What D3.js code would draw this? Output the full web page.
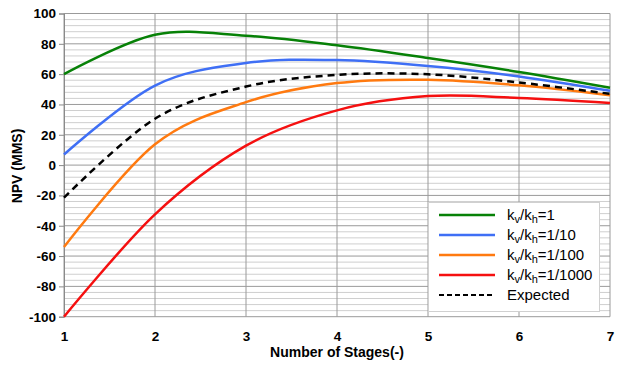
<!DOCTYPE html>
<html><head><meta charset="utf-8">
<script src="https://cdn.jsdelivr.net/npm/d3@7"></script>
<style>
body{margin:0;background:#fff;}
text{font-family:"Liberation Sans",Arial,Helvetica,sans-serif;}
</style></head>
<body><svg id="c" width="620" height="367"></svg>
<script>
const stages = [1, 2, 3, 4, 5, 6, 7];
const npv_1 = [60, 86, 85.3, 79, 70.6, 61.4, 51];
const npv_10 = [7, 52.5, 67.3, 69.3, 65.4, 58.5, 49];
const npv_100 = [-54, 13.7, 41.5, 54.1, 56.3, 52.6, 46];
const npv_1000 = [-100, -32.5, 12.8, 36.1, 45.5, 44.3, 41];
const npv_expected = [-21.5, 30.6, 51.8, 59.5, 59.9, 54.5, 47];
const yTicks = [-100, -80, -60, -40, -20, 0, 20, 40, 60, 80, 100];
const xTicks = [1, 2, 3, 4, 5, 6, 7];
const seriesNames = ["1", "1/10", "1/100", "1/1000", "Expected"];

const series = [
  {name: seriesNames[0], values: npv_1, color: "#078107", dash: null},
  {name: seriesNames[1], values: npv_10, color: "#3f6ff5", dash: null},
  {name: seriesNames[2], values: npv_100, color: "#ff7a10", dash: null},
  {name: seriesNames[3], values: npv_1000, color: "#f51010", dash: null},
  {name: seriesNames[4], values: npv_expected, color: "#000000", dash: "7,5"}
];

const svg = d3.select("#c");
const L = 64, R = 610, T = 13.5, B = 316.7;
const x = d3.scaleLinear().domain([1, 7]).range([L, R]);
const y = d3.scaleLinear().domain([-100, 100]).range([B, T]);

// minor grid
const minor = d3.range(-100, 100.01, 4).filter(v => v % 20 !== 0);
svg.append("g").selectAll("line").data(minor).join("line")
  .attr("x1", L).attr("x2", R).attr("y1", d => y(d)).attr("y2", d => y(d))
  .attr("stroke", "#cfcfcf").attr("stroke-width", 1);
// major grid
svg.append("g").selectAll("line").data(yTicks).join("line")
  .attr("x1", L).attr("x2", R).attr("y1", d => y(d)).attr("y2", d => y(d))
  .attr("stroke", "#9a9a9a").attr("stroke-width", 1);
svg.append("g").selectAll("line").data(xTicks).join("line")
  .attr("x1", d => x(d)).attr("x2", d => x(d)).attr("y1", T).attr("y2", B)
  .attr("stroke", "#9a9a9a").attr("stroke-width", 1);

// axes
const fmt = d => String(d);
const ya = svg.append("g").attr("transform", `translate(${L},0)`)
  .call(d3.axisLeft(y).tickValues(yTicks).tickSize(5).tickPadding(3).tickFormat(fmt));
ya.select(".domain").attr("stroke", "#8a8a8a");
ya.selectAll(".tick line").attr("stroke", "#8a8a8a");
ya.selectAll("text").attr("font-size", 13.5).attr("font-weight", "bold").attr("fill", "#000")
  .style("font-family", '"Liberation Sans",Arial,sans-serif');

const xa = svg.append("g").attr("transform", `translate(0,${B})`)
  .call(d3.axisBottom(x).tickValues(xTicks).tickSize(0).tickPadding(15).tickFormat(fmt));
xa.select(".domain").remove();
xa.selectAll("text").attr("font-size", 13.5).attr("font-weight", "bold").attr("fill", "#000")
  .style("font-family", '"Liberation Sans",Arial,sans-serif');

svg.append("text").attr("x", (L + R) / 2).attr("y", 357).attr("text-anchor", "middle")
  .attr("font-size", 14).attr("font-weight", "bold").text("Number of Stages(-)");
svg.append("text").attr("transform", "translate(22,166) rotate(-90)").attr("text-anchor", "middle")
  .attr("font-size", 14).attr("font-weight", "bold").text("NPV (MMS)");

// lines
const line = d3.line().x((d, i) => x(stages[i])).y(d => y(d)).curve(d3.curveCardinal.tension(0));
svg.append("g").selectAll("path").data(series).join("path")
  .attr("d", d => line(d.values)).attr("fill", "none")
  .attr("stroke", d => d.color).attr("stroke-width", 2.5)
  .attr("stroke-dasharray", d => d.dash);

// legend
const lg = svg.append("g");
lg.append("rect").attr("x", 428.5).attr("y", 202.5).attr("width", 171).attr("height", 109)
  .attr("fill", "#fff").attr("stroke", "#d0d0d0").attr("stroke-width", 1);
series.forEach((s, i) => {
  const cy = 215 + i * 20;
  lg.append("line").attr("x1", 439).attr("x2", 495).attr("y1", cy).attr("y2", cy)
    .attr("stroke", s.color).attr("stroke-width", s.dash ? 2 : 2.5).attr("stroke-dasharray", s.dash ? "5,3" : null);
  const t = lg.append("text").attr("x", 507).attr("y", cy + 5).attr("font-size", 15).attr("fill", "#000");
  if (s.dash) {
    t.text(s.name);
  } else {
    t.append("tspan").text("k");
    t.append("tspan").attr("font-size", 11).attr("dy", 3).text("v");
    t.append("tspan").attr("dy", -3).text("/k");
    t.append("tspan").attr("font-size", 11).attr("dy", 3).text("h");
    t.append("tspan").attr("dy", -3).text("=" + s.name);
  }
});
</script></body></html>
